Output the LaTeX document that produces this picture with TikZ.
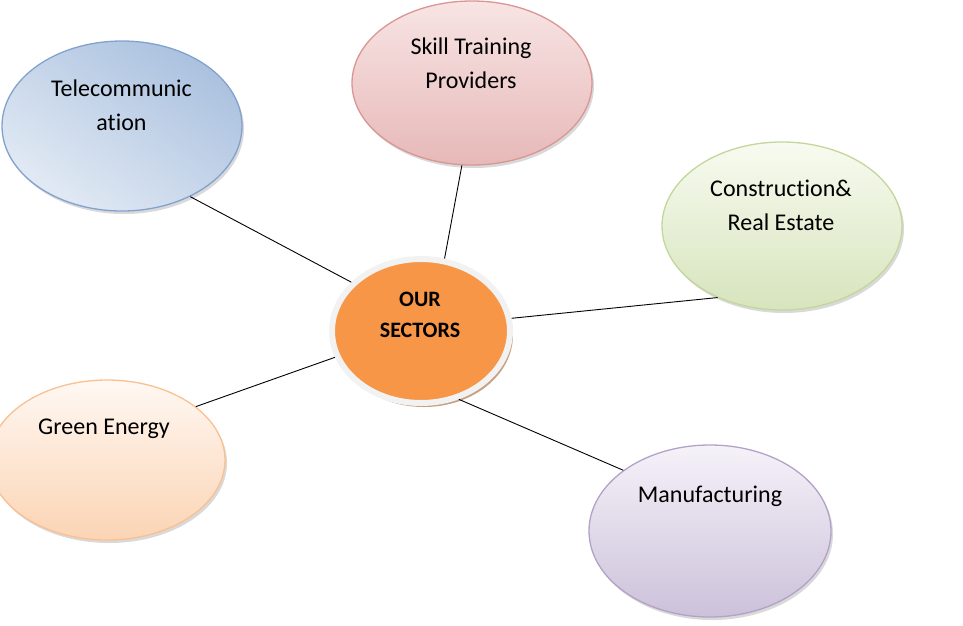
\documentclass[tikz,border=0pt]{standalone}
\usepackage{fontspec}
\setmainfont{Carlito}[Ligatures=NoCommon]
\usetikzlibrary{shapes.geometric,shadows}
\definecolor{teledge}{RGB}{130,162,206}
\definecolor{teltop}{RGB}{170,193,223}
\definecolor{telbot}{RGB}{226,234,244}
\definecolor{skiedge}{RGB}{217,150,148}
\definecolor{skitop}{RGB}{248,228,228}
\definecolor{skibot}{RGB}{230,185,184}
\definecolor{conedge}{RGB}{195,214,155}
\definecolor{contop}{RGB}{247,251,240}
\definecolor{conbot}{RGB}{215,228,189}
\definecolor{greedge}{RGB}{250,192,144}
\definecolor{gretop}{RGB}{255,248,243}
\definecolor{grebot}{RGB}{251,212,180}
\definecolor{manedge}{RGB}{179,162,199}
\definecolor{mantop}{RGB}{245,242,249}
\definecolor{manbot}{RGB}{204,193,218}
\definecolor{huborange}{RGB}{247,150,70}
\definecolor{hubring}{RGB}{242,242,242}
\definecolor{hubshadow}{RGB}{200,160,127}
\tikzset{every node/.style={inner sep=0pt},
  sector/.style={ellipse, draw=#1edge, line width=1.3pt, top color=#1top, bottom color=#1bot,
    drop shadow={shadow xshift=2pt, shadow yshift=-3pt, opacity=0.3}},
  hub/.style={ellipse, draw=hubring, line width=6pt, fill=huborange,
    drop shadow={shadow xshift=3pt, shadow yshift=-4pt, fill=hubshadow, opacity=1}},
  link/.style={black, line width=0.9pt},
  txt/.style={align=center, font=\fontsize{24}{34}\selectfont}}

\begin{document}
\begin{tikzpicture}[x=1pt,y=-1pt]
  \useasboundingbox (0,0) rectangle (963,625);
  \node[sector=tel, shading angle=-35, minimum width=240pt, minimum height=170pt] (tel) at (122,126) {};
  \node[sector=ski, minimum width=240pt, minimum height=164pt] (ski) at (472,83) {};
  \node[sector=con, minimum width=240pt, minimum height=168pt] (con) at (782,226) {};
  \node[sector=gre, minimum width=236pt, minimum height=160pt] (gre) at (107,460) {};
  \node[sector=man, minimum width=242pt, minimum height=172pt] (man) at (710,531) {};
  \node[hub, minimum width=178pt, minimum height=144pt] (hub) at (421,331) {};
  % labels
  \node[txt] (teltext) at (121.5,105) {Telecommunic\\ation};
  \node[txt] (skitext) at (471,63) {Skill Training\\Providers};
  \node[txt] (context) at (781,205.5) {Construction\&\\Real Estate};
  \node[txt, anchor=base] (gretext) at (104,434) {Green Energy};
  \node[txt, anchor=base] (mantext) at (710,502) {Manufacturing};
  \node[align=center, font=\fontsize{22}{31}\selectfont\bfseries] (hubtext) at (420,314.5) {OUR\\SECTORS};
  % spokes
  \draw[link] (tel.-46) -- (hub.145);
  \draw[link] (ski.-97) -- (hub.72);
  \draw[link] (con.-132) -- (hub.8);
  \draw[link] (gre.31) -- (hub.-163);
  \draw[link] (man.145) -- (hub.-61);
\end{tikzpicture}
\end{document}
